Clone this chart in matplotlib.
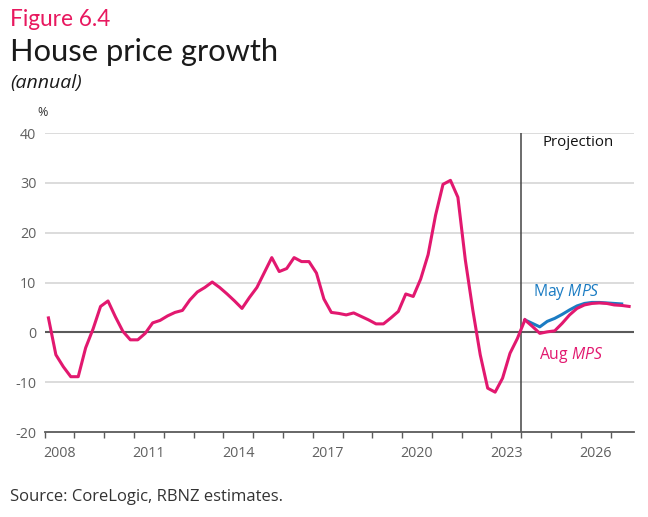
import matplotlib
matplotlib.use("Agg")
import matplotlib.pyplot as plt
import numpy as np

# ---- data ----
hist_start = 2008.125  # mid-quarter of Q1 2008
history = [2.9, -4.5, -6.9, -8.9,
           -8.9, -3.1, 0.7, 5.2,
           6.3, 3.1, 0.2, -1.5,
           -1.5, -0.2, 1.9, 2.4,
           3.3, 4.0, 4.4, 6.5,
           8.1, 9.0, 10.1, 9.0,
           7.7, 6.3, 4.8, 7.0,
           9.0, 12.0, 15.0, 12.2,
           12.8, 15.0, 14.2, 14.2,
           11.9, 6.7, 4.0, 3.8,
           3.5, 3.9, 3.2, 2.5,
           1.7, 1.7, 2.9, 4.2,
           7.7, 7.2, 10.7, 15.6,
           23.5, 29.7, 30.5, 27.1,
           14.5, 4.5, -4.5, -11.2,
           -12.0, -9.2, -4.2, -1.2,
           2.5]
proj_start = 2024.125
may_mps = [2.5, 1.8, 1.1, 2.2, 2.8, 3.6, 4.5, 5.3, 5.8, 6.0, 6.0, 5.9, 5.8, 5.7]
aug_mps = [2.5, 1.2, -0.2, 0.1, 0.3, 1.8, 3.5, 4.8, 5.5, 5.8, 5.9, 5.8, 5.5, 5.4, 5.2]
year_labels = [2008, 2011, 2014, 2017, 2020, 2023, 2026]
y_ticks = [-20, -10, 0, 10, 20, 30, 40]
projection_start = 2024.0

PINK = "#E2186F"
BLUE = "#1B7CC3"
GRID = "#D9D9D9"
DARK = "#5A5A5A"
TICKC = "#606060"

plt.rcParams['mathtext.fontset'] = 'custom'
plt.rcParams['mathtext.rm'] = 'Open Sans'
plt.rcParams['mathtext.it'] = 'Open Sans:italic'

fig = plt.figure(figsize=(6.48, 5.17), dpi=100)
ax = fig.add_axes([0.069, 0.1644, 0.909, 0.5783])

x_hist = hist_start + 0.25 * np.arange(len(history))
x_may = proj_start + 0.25 * np.arange(len(may_mps))
x_aug = proj_start + 0.25 * np.arange(len(aug_mps))

for y in y_ticks:
    if y not in (0, -20):
        ax.axhline(y, color=GRID, lw=1.3, zorder=1)
ax.axhline(0, color=DARK, lw=1.5, zorder=2)
ax.axvline(projection_start, color="#444444", lw=1.1, zorder=2)

ax.plot(x_may, may_mps, color=BLUE, lw=2.2, zorder=3, solid_joinstyle='round')
ax.plot(x_hist, history, color=PINK, lw=2.2, zorder=4, solid_joinstyle='round')
ax.plot(x_aug, aug_mps, color=PINK, lw=2.2, zorder=4, solid_joinstyle='round')

ax.set_xlim(2008.0, 2027.78)
ax.set_ylim(-20, 40)

for s in ['left', 'right', 'top']:
    ax.spines[s].set_visible(False)
ax.spines['bottom'].set_color(DARK)
ax.spines['bottom'].set_linewidth(1.3)

ax.set_xticks(np.arange(2008, 2028, 1))
ax.set_xticklabels([])
ax.tick_params(axis='x', which='major', length=4, width=1, color=DARK, direction='out')
ax.set_xticks([y + 0.5 for y in year_labels], minor=True)
ax.set_xticklabels([str(y) for y in year_labels], minor=True,
                   fontfamily='Open Sans', fontsize=10.3, color=TICKC)
ax.tick_params(axis='x', which='minor', length=0, pad=10)

ax.set_yticks(y_ticks)
ax.set_yticklabels([str(v) for v in y_ticks], fontfamily='Open Sans', fontsize=10.3, color=TICKC)
ax.tick_params(axis='y', length=0, pad=6)

ax.text(2024.72, 38, "Projection", fontfamily='Open Sans', fontsize=10.8, color="#111111",
        ha='left', va='center')
ax.text(2025.53, 8.1, r"May $\mathit{MPS}$", fontfamily='Open Sans', fontsize=11.3, color=BLUE,
        ha='center', va='center')
ax.text(2025.68, -4.5, r"Aug $\mathit{MPS}$", fontfamily='Open Sans', fontsize=11.3, color=PINK,
        ha='center', va='center')

W, H = 648, 517
def fy(py):
    return 1 - py / H

fig.text(10 / W, fy(26), "Figure 6.4", fontfamily='Lato', fontsize=16.3, color="#E8185F",
         ha='left', va='baseline')
fig.text(10 / W, fy(61.5), "House price growth", fontfamily='Lato', fontsize=22.2, color="#1a1a1a",
         ha='left', va='baseline')
fig.text(10 / W, fy(88), "(annual)", fontfamily='Open Sans', fontsize=14, style='italic',
         color="#1a1a1a", ha='left', va='baseline')
fig.text(43 / W, fy(113), "%", fontfamily='Open Sans', fontsize=9, color="#333333",
         ha='center', va='center')
fig.text(10 / W, fy(501), "Source: CoreLogic, RBNZ estimates.", fontfamily='Open Sans',
         fontsize=12, color="#333333", ha='left', va='baseline')

fig.savefig("out.png", dpi=100)
